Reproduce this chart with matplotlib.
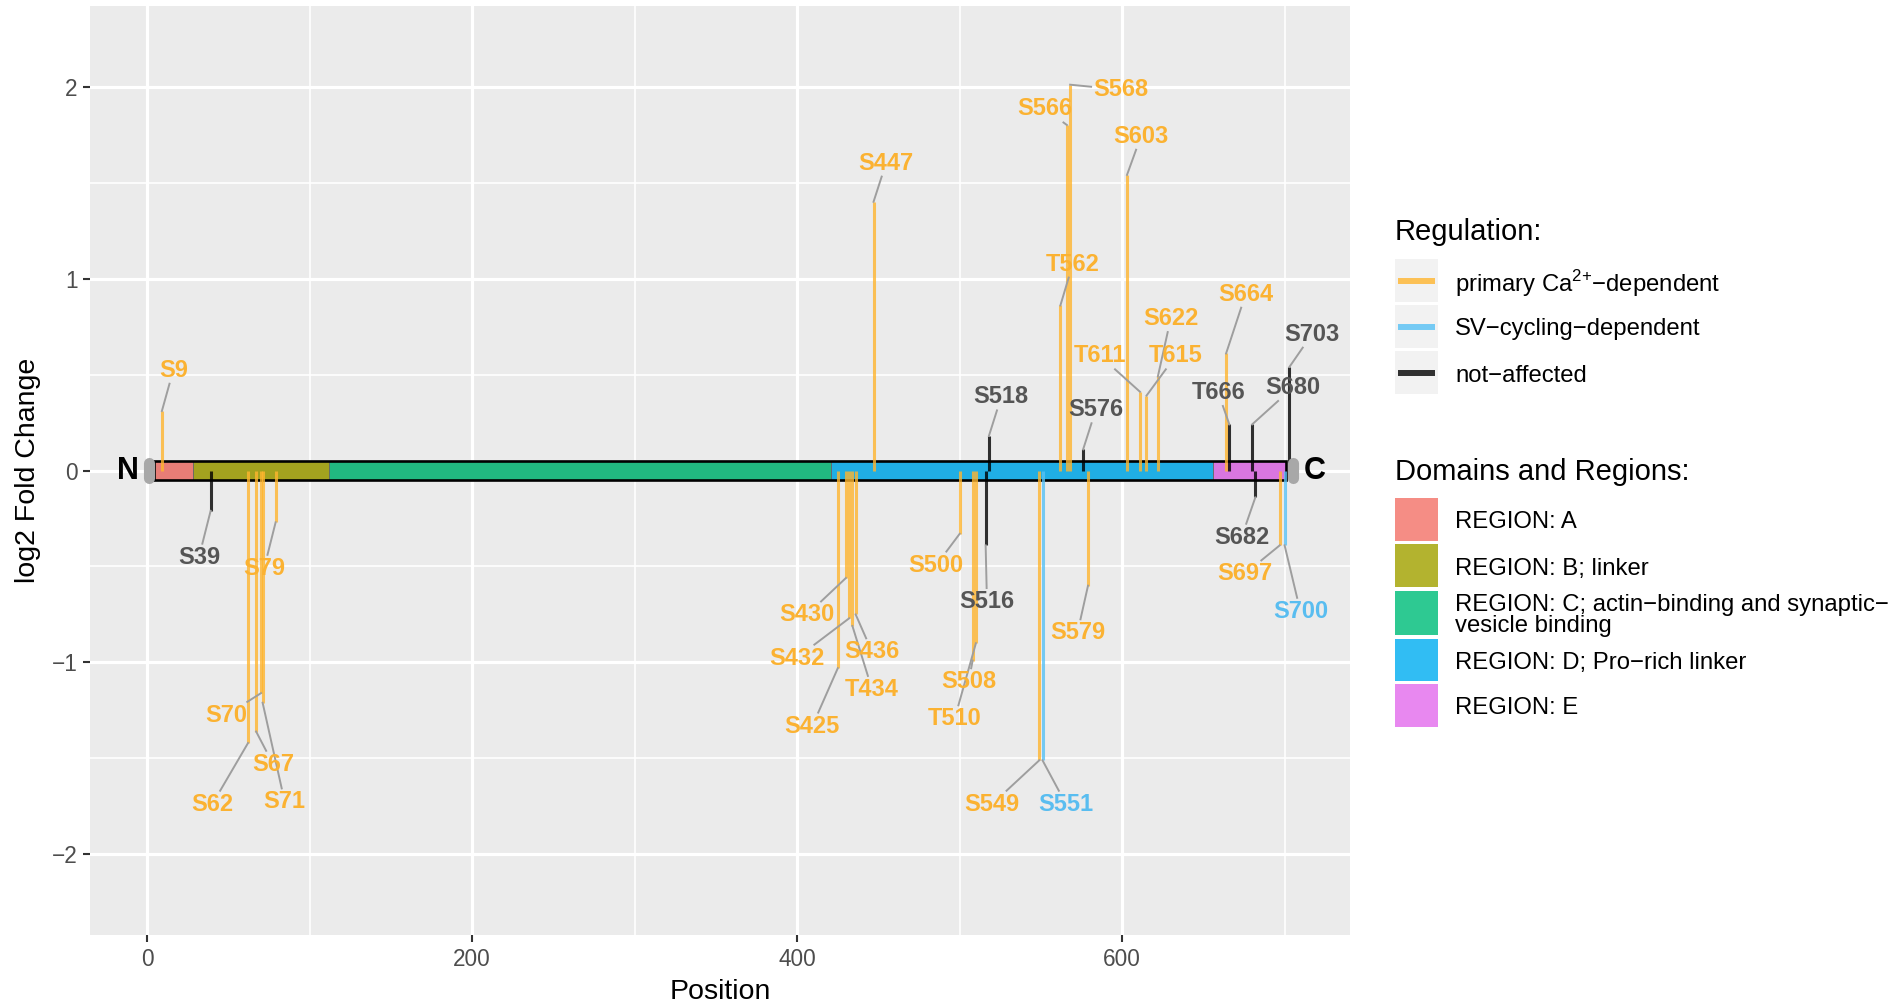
import numpy as np
import matplotlib
matplotlib.use("Agg")
import matplotlib.pyplot as plt
from matplotlib.patches import Rectangle
from matplotlib.transforms import offset_copy

plt.rcParams['font.family'] = ['Liberation Sans', 'DejaVu Sans']
plt.rcParams['mathtext.fontset'] = 'custom'
plt.rcParams['mathtext.rm'] = 'Liberation Sans'
plt.rcParams['axes.unicode_minus'] = True

# phosphosites
sites = ['S9', 'S39', 'S62', 'S67', 'S70', 'S71', 'S79',
         'S425', 'S430', 'S432', 'T434', 'S436', 'S447',
         'S500', 'S508', 'T510', 'S516', 'S518', 'S549', 'S551',
         'T562', 'S566', 'S568', 'S576', 'S579', 'S603',
         'T611', 'T615', 'S622', 'S664', 'T666', 'S680', 'S682',
         'S697', 'S700', 'S703']
positions = [9, 39, 62, 67, 70, 71, 79,
             425, 430, 432, 434, 436, 447,
             500, 508, 510, 516, 518, 549, 551,
             562, 566, 568, 576, 579, 603,
             611, 615, 622, 664, 666, 680, 682,
             697, 700, 703]
log2fc = [0.31, -0.21, -1.42, -1.36, -1.16, -1.21, -0.27,
          -1.03, -0.56, -0.77, -0.81, -0.75, 1.40,
          -0.33, -0.99, -0.90, -0.39, 0.18, -1.51, -1.51,
          0.86, 1.80, 2.01, 0.11, -0.60, 1.54,
          0.41, 0.39, 0.49, 0.61, 0.24, 0.24, -0.14,
          -0.39, -0.39, 0.54]
regulation = ['Ca', 'not', 'Ca', 'Ca', 'Ca', 'Ca', 'Ca',
              'Ca', 'Ca', 'Ca', 'Ca', 'Ca', 'Ca',
              'Ca', 'Ca', 'Ca', 'not', 'not', 'Ca', 'SV',
              'Ca', 'Ca', 'Ca', 'not', 'Ca', 'Ca',
              'Ca', 'Ca', 'Ca', 'Ca', 'not', 'not', 'not',
              'Ca', 'SV', 'not']
# where the repelled labels ended up
label_x = [16.0, 31.8, 40.0, 77.5, 48.4, 84.6, 71.9,
           409.3, 405.9, 399.6, 446.1, 446.1, 454.7,
           485.6, 505.5, 496.9, 516.8, 525.6, 519.9, 565.5,
           569.6, 552.6, 599.1, 583.8, 572.5, 611.6,
           586.4, 633.0, 629.9, 676.0, 659.1, 705.2, 673.5,
           675.5, 709.7, 716.9]
label_y = [0.534, -0.44, -1.727, -1.519, -1.264, -1.715, -0.498,
           -1.32, -0.741, -0.966, -1.129, -0.933, 1.613,
           -0.481, -1.089, -1.282, -0.671, 0.395, -1.727, -1.727,
           1.087, 1.895, 1.996, 0.328, -0.834, 1.753,
           0.609, 0.609, 0.803, 0.93, 0.418, 0.444, -0.336,
           -0.527, -0.722, 0.722]

reg_levels = ['Ca', 'SV', 'not']
reg_labels = ['primary Ca$^{2{+}}$\u2212dependent', 'SV\u2212cycling\u2212dependent', 'not\u2212affected']
line_colors = {'Ca': '#FFB52E', 'SV': '#56C1F5', 'not': '#000000'}
text_colors = {'Ca': '#FBB232', 'SV': '#59BDF0', 'not': '#555555'}

# protein domains
region_names = ['REGION: A', 'REGION: B; linker',
                'REGION: C; actin\u2212binding and synaptic\u2212\nvesicle binding',
                'REGION: D; Pro\u2212rich linker', 'REGION: E']
region_start = [4, 28, 112, 421, 656]
region_end = [28, 112, 421, 656, 701]
bar_colors = ['#E87D76', '#A3A21F', '#21B980', '#20AEE5', '#D976E0']
key_colors = ['#F58D85', '#B3B32F', '#2EC992', '#31BDF3', '#E888F0']

W, H = 1895, 1006
fig = plt.figure(figsize=(W / 100, H / 100), dpi=100)
ax = fig.add_axes([90 / W, 1 - 935 / H, 1260 / W, 929 / H])
ax.set_facecolor('#EBEBEB')
ax.set_xlim(-35.25, 740.25)
ax.set_ylim(-2.42, 2.42)
for s in ax.spines.values():
    s.set_visible(False)
ax.set_xticks([0, 200, 400, 600])
ax.set_xticks([100, 300, 500, 700], minor=True)
ax.set_yticks([-2, -1, 0, 1, 2])
ax.set_yticks([-1.5, -0.5, 0.5, 1.5], minor=True)
ax.grid(which='major', color='white', lw=2.3)
ax.grid(which='minor', color='white', lw=1.2)
ax.set_axisbelow(True)
ax.tick_params(which='minor', length=0)
ax.tick_params(which='major', length=5, width=1.5, color='#333333',
               labelcolor='#4D4D4D', labelsize=16.3, pad=4)

ax.set_xlabel('Position', fontsize=20.5)
ax.xaxis.label.set_va('center')
ax.xaxis.set_label_coords(0.5, -(992 - 935) / 929)
ax.set_ylabel('log2 Fold Change', fontsize=20.5)
ax.yaxis.label.set_va('center')
ax.yaxis.set_label_coords((28 - 90) / 1260, 0.5)

# protein bar
for s0, e0, c in zip(region_start, region_end, bar_colors):
    ax.add_patch(Rectangle((s0, -0.05), e0 - s0, 0.1, facecolor=c,
                           edgecolor='#666666', lw=0.6, zorder=2))
ax.add_patch(Rectangle((region_start[0], -0.05), region_end[-1] - region_start[0], 0.1,
                       fill=False, edgecolor='black', lw=1.9, zorder=2.5))

# site lines
for p, v, r in zip(positions, log2fc, regulation):
    ax.plot([p, p], [0, v], color=line_colors[r], alpha=0.8, lw=2.2,
            solid_capstyle='butt', zorder=3)

# termini
for xc in [1, 705]:
    ax.plot([xc, xc], [-0.04, 0.04], color='#A8A8A8', lw=8,
            solid_capstyle='round', zorder=4)
ax.text(-12, 0, 'N', ha='center', va='center', fontsize=22, fontweight='bold', zorder=6)
ax.text(718.5, 0, 'C', ha='center', va='center', fontsize=22, fontweight='bold', zorder=6)

# labels and connector segments
lab_trans = offset_copy(ax.transData, fig=fig, y=-1.6, units='points')
texts = []
for name, lx, ly, r in zip(sites, label_x, label_y, regulation):
    t = ax.text(lx, ly, name, ha='center', va='center', fontsize=17,
                fontweight='bold', color=text_colors[r], zorder=6,
                transform=lab_trans)
    texts.append(t)

fig.canvas.draw()
renderer = fig.canvas.get_renderer()
inv = ax.transData.inverted()
for t, p, v in zip(texts, positions, log2fc):
    bb = t.get_window_extent(renderer).padded(2)
    tip = ax.transData.transform((p, v))
    c = np.array([(bb.x0 + bb.x1) / 2, (bb.y0 + bb.y1) / 2])
    d = tip - c
    kx = (bb.width / 2) / abs(d[0]) if d[0] != 0 else np.inf
    ky = (bb.height / 2) / abs(d[1]) if d[1] != 0 else np.inf
    k = min(kx, ky)
    if k >= 1:
        continue
    end = c + k * d
    pts = inv.transform(np.array([tip, end]))
    ax.plot(pts[:, 0], pts[:, 1], color='#9E9E9E', lw=1.4, zorder=5)

# legends, laid out in pixel coordinates
lax = fig.add_axes([0, 0, 1, 1])
lax.set_xlim(0, W)
lax.set_ylim(H, 0)
lax.axis('off')

lax.text(1395, 232, 'Regulation:', fontsize=21, va='center', ha='left')
for i, (lev, lab) in enumerate(zip(reg_levels, reg_labels)):
    y0 = 259 + i * 46
    lax.add_patch(Rectangle((1395, y0), 43, 43, facecolor='#F2F2F2', edgecolor='none'))
    lax.plot([1398, 1435], [y0 + 21.5, y0 + 21.5], color=line_colors[lev],
             alpha=0.8, lw=4.3, solid_capstyle='butt')
    lax.text(1455, y0 + 24.5, lab, fontsize=17.2, va='center', ha='left')

lax.text(1395, 472, 'Domains and Regions:', fontsize=21, va='center', ha='left')
key_tops = [498.2, 544.2, 590.5, 638.5, 684.1]
key_heights = [42.6, 42.6, 44.6, 42.6, 42.6]
for name, c, y0, h in zip(region_names, key_colors, key_tops, key_heights):
    lax.add_patch(Rectangle((1395, y0), 43, h, facecolor=c, edgecolor='none'))
    lax.text(1455, y0 + h / 2 + 3, name, fontsize=17.2, va='center', ha='left',
             linespacing=0.92)

fig.savefig('out.png', dpi=100)
